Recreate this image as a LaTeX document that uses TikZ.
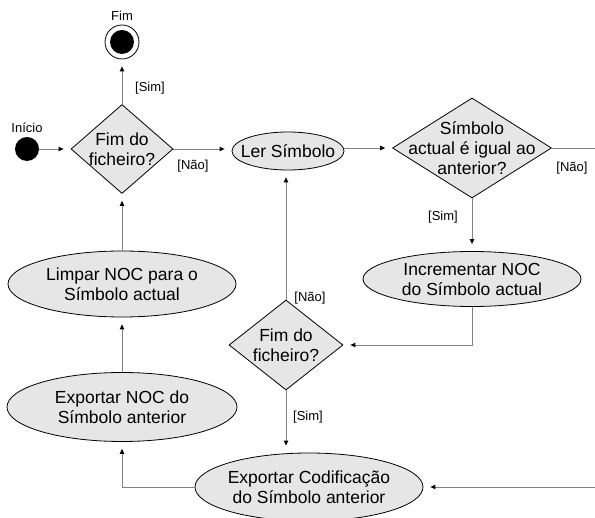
\documentclass[tikz,border=0pt]{standalone}
\usepackage{fontspec}
\setmainfont{Liberation Sans}
\usetikzlibrary{shapes.geometric,arrows.meta}

\definecolor{boxgray}{RGB}{230,230,230}
\definecolor{linegray}{RGB}{128,128,128}

\begin{document}
\begin{tikzpicture}[x=1pt,y=-1pt,
  every node/.style={text=black},
  txt/.style={label={[align=center,font=\fontsize{17.5}{20}\selectfont]center:{#1}}},
  activity/.style={ellipse,draw=black,line width=0.8pt,fill=boxgray,inner sep=0pt},
  decision/.style={diamond,draw=black,line width=0.8pt,fill=boxgray,inner sep=0pt},
  guard/.style={font=\fontsize{13}{15}\selectfont,inner sep=0pt},
  flow/.style={draw=linegray,line width=0.9pt,
    -{Triangle[length=5pt,width=4.5pt,color=black]},shorten >=7pt},
]
\useasboundingbox (0,0) rectangle (595,518);

% initial and final states
\node[circle,fill=black,minimum size=24pt,inner sep=0pt] (start) at (27,149) {};
\node[guard] (startlbl) at (27,128) {Início};
\node[circle,draw=black,line width=0.8pt,fill=white,minimum size=34pt,inner sep=0pt] (end) at (122,42) {};
\node[circle,fill=black,minimum size=24pt,inner sep=0pt] (endcore) at (end) {};
\node[guard] (endlbl) at (122,16) {Fim};

% decisions
\node[decision,minimum width=102pt,minimum height=89pt,txt={Fim do\\ficheiro?}] (d1) at (122,149) {};
\node[decision,minimum width=159pt,minimum height=100pt,txt={Símbolo\\actual é igual ao\\anterior?}] (d2) at (472,148) {};
\node[decision,minimum width=114pt,minimum height=90pt,txt={Fim do\\ficheiro?}] (d3) at (286,345) {};

% activities
\node[activity,minimum width=112pt,minimum height=38pt,txt={Ler Símbolo}] (ler) at (288,151) {};
\node[activity,minimum width=218pt,minimum height=55pt,txt={Incrementar NOC\\do Símbolo actual}] (inc) at (472,279) {};
\node[activity,minimum width=228pt,minimum height=68pt,txt={Exportar Codificação\\do Símbolo anterior}] (expcod) at (309,487) {};
\node[activity,minimum width=230pt,minimum height=69pt,txt={Exportar NOC do\\Símbolo anterior}] (expnoc) at (122,407) {};
\node[activity,minimum width=228pt,minimum height=66pt,txt={Limpar NOC para o\\Símbolo actual}] (limpar) at (122,284) {};

% free end beyond the right margin
\coordinate (rim) at (602,0);

% connectors
\draw[flow] (start.east) -- (d1.west);
\draw[flow] (d1.north) -- (end.south);
\draw[flow] (d1.east) -- (d1.east -| ler.west);
\draw[flow] (d2.west -| ler.east) -- (d2.west);
\draw[flow] (d2.south) -- (inc.north);
\draw[flow] (inc.south) |- (d3.east);
\draw[flow] (d3.north) -- (d3.north |- ler.south);
\draw[flow] (d3.south) -- (d3.south |- expcod.north);
\draw[flow] (expcod.west) -| (expnoc.south);
\draw[flow] (expnoc.north) -- (limpar.south);
\draw[flow] (limpar.north) -- (d1.south);
\draw[flow] (d2.east) -- (d2.east -| rim) -- (rim |- expcod.east) -- (expcod.east);

% guard labels
\node[guard] (g1) at (150,88) {[Sim]};
\node[guard] (g2) at (193,166) {[Não]};
\node[guard] (g3) at (572,168) {[Não]};
\node[guard] (g4) at (443,217) {[Sim]};
\node[guard] (g5) at (310,298) {[Não]};
\node[guard] (g6) at (308,417) {[Sim]};
\end{tikzpicture}
\end{document}
